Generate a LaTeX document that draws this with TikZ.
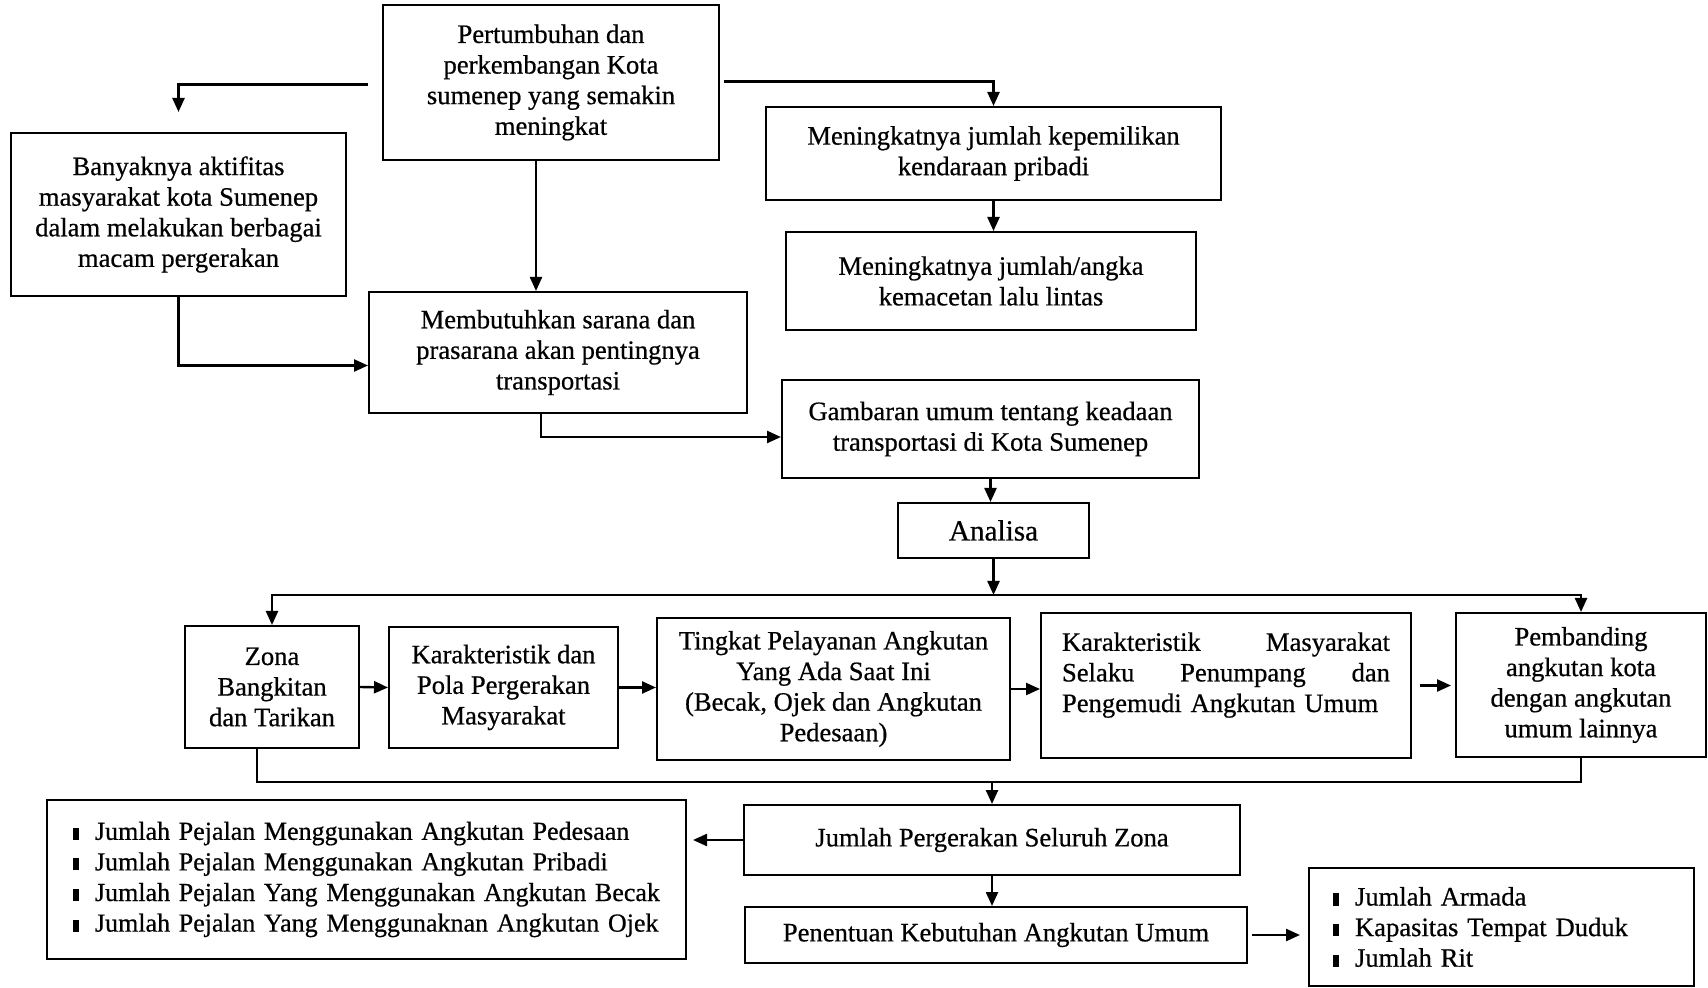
\documentclass[tikz,border=0pt]{standalone}
\usepackage{fontspec}
\setmainfont{Liberation Serif}[UprightFeatures={FakeBold=0.6}]
\usetikzlibrary{arrows.meta}
\newcommand\itm{\rule[0pt]{3pt}{6pt}\hspace{8pt}}

\begin{document}
\begin{tikzpicture}[x=0.5pt,y=-0.5pt,
    box/.style={draw, line width=1pt, align=center, inner sep=2pt,
        font=\fontsize{13.3}{15.3}\selectfont},
    arr/.style={-{Triangle[length=7pt,width=6pt]}, line width=1.2pt},
    ln/.style={line width=1.2pt}]
    \useasboundingbox (0,0) rectangle (1708,988);
    % top part
    \node[box, minimum width=168pt, minimum height=77.5pt] (tumbuh) at (551,82.5)
        {Pertumbuhan dan\\perkembangan Kota\\sumenep yang semakin\\meningkat};
    \node[box, minimum width=167.5pt, minimum height=81.5pt] (aktif) at (178.5,214.5)
        {Banyaknya aktifitas\\masyarakat kota Sumenep\\dalam melakukan berbagai\\macam pergerakan};
    \node[box, minimum width=227.5pt, minimum height=46.5pt] (milik) at (993.5,153.5)
        {Meningkatnya jumlah kepemilikan\\kendaraan pribadi};
    \node[box, minimum width=205pt, minimum height=49pt] (macet) at (991,281)
        {Meningkatnya jumlah/angka\\kemacetan lalu lintas};
    \node[box, minimum width=189pt, minimum height=60.5pt] (sarana) at (558,352.5)
        {Membutuhkan sarana dan\\prasarana akan pentingnya\\transportasi};
    \node[box, minimum width=208.5pt, minimum height=49pt] (gambar) at (990.5,429)
        {Gambaran umum tentang keadaan\\transportasi di Kota Sumenep};
    \node[box, minimum width=95.5pt, minimum height=27.5pt,
        font=\fontsize{14.6}{16}\selectfont] (analisa) at (993.5,530.5) {Analisa};
    \draw[arr, shorten <=7pt, shorten >=10pt] ([yshift=-1pt]tumbuh.west) -| (aktif.north);
    \draw[arr, shorten <=2pt] ([yshift=0.5pt]tumbuh.east) -| (milik.north);
    \draw[arr] (milik.south) -- (milik.south |- macet.north);
    \draw[arr] ([xshift=-7.5pt]tumbuh.south) -- ([xshift=-7.5pt]tumbuh.south |- sarana.north);
    \draw[arr] (aktif.south) |- ([yshift=-6.5pt]sarana.west);
    \draw[arr] ([xshift=-8.5pt]sarana.south) |- ([yshift=-4pt]gambar.west);
    \draw[arr] (gambar.south) -- (gambar.south |- analisa.north);
    % analysis row
    \node[box, minimum width=87pt, minimum height=61pt] (zona) at (272,687)
        {Zona\\Bangkitan\\dan Tarikan};
    \node[box, minimum width=114.5pt, minimum height=60.5pt] (pola) at (503.5,687.5)
        {Karakteristik dan\\Pola Pergerakan\\Masyarakat};
    \node[box, minimum width=176.5pt, minimum height=71pt] (layan) at (833.5,689)
        {Tingkat Pelayanan Angkutan\\Yang Ada Saat Ini\\(Becak, Ojek dan Angkutan\\Pedesaan)};
    \node[box, minimum width=185pt, minimum height=72.5pt, text width=164pt,
        inner xsep=10.5pt, align=left] (karmas) at (1226,685.5)
        {Karakteristik \hfill Masyarakat\\Selaku \hfill Penumpang \hfill dan\\Pengemudi Angkutan Umum\\[-2pt]\mbox{}};
    \node[box, minimum width=125pt, minimum height=72pt] (banding) at (1581,685)
        {Pembanding\\angkutan kota\\dengan angkutan\\umum lainnya};
    \coordinate (cab) at (993.5,595);
    \draw[arr] (analisa.south) -- (cab);
    \draw[arr] (cab) -| (zona.north);
    \draw[arr] (cab) -| (banding.north);
    \draw[arr] (zona.east) -- (pola.west);
    \draw[arr] (pola.east) -- (pola.east -| layan.west);
    \draw[arr] (layan.east) -- (layan.east -| karmas.west);
    \draw[arr, shorten <=4pt, shorten >=2pt] (karmas.east) -- (karmas.east -| banding.west);
    % results
    \node[box, minimum width=248pt, minimum height=35pt] (gerak) at (992,840)
        {Jumlah Pergerakan Seluruh Zona};
    \node[box, minimum width=319.5pt, minimum height=79.5pt, text width=293.5pt,
        inner xsep=13pt, align=left, font=\fontsize{13}{15.3}\selectfont] (pejalan) at (366.5,879.5)
        {\mbox{\itm Jumlah Pejalan Menggunakan Angkutan Pedesaan}\\
         \mbox{\itm Jumlah Pejalan Menggunakan Angkutan Pribadi}\\
         \mbox{\itm Jumlah Pejalan Yang Menggunakan Angkutan Becak}\\
         \mbox{\itm Jumlah Pejalan Yang Menggunaknan Angkutan Ojek}};
    \node[box, minimum width=251pt, minimum height=28pt] (tentu) at (996,935)
        {Penentuan Kebutuhan Angkutan Umum};
    \node[box, minimum width=192.5pt, minimum height=59pt, text width=168.5pt,
        inner xsep=12pt, align=left] (armada) at (1501.5,927)
        {\itm Jumlah Armada\\\itm Kapasitas Tempat Duduk\\\itm Jumlah Rit};
    \coordinate (kumpul) at (992,782);
    \draw[ln] ([xshift=-7.5pt]zona.south) |- (banding.south |- kumpul) -- (banding.south);
    \draw[arr] (kumpul) -- (gerak.north);
    \draw[arr, shorten >=3pt] (gerak.west) -- (gerak.west -| pejalan.east);
    \draw[arr] (gerak.south) -- (gerak.south |- tentu.north);
    \draw[arr, shorten <=2pt, shorten >=4pt] (tentu.east) -- (tentu.east -| armada.west);
\end{tikzpicture}
\end{document}
